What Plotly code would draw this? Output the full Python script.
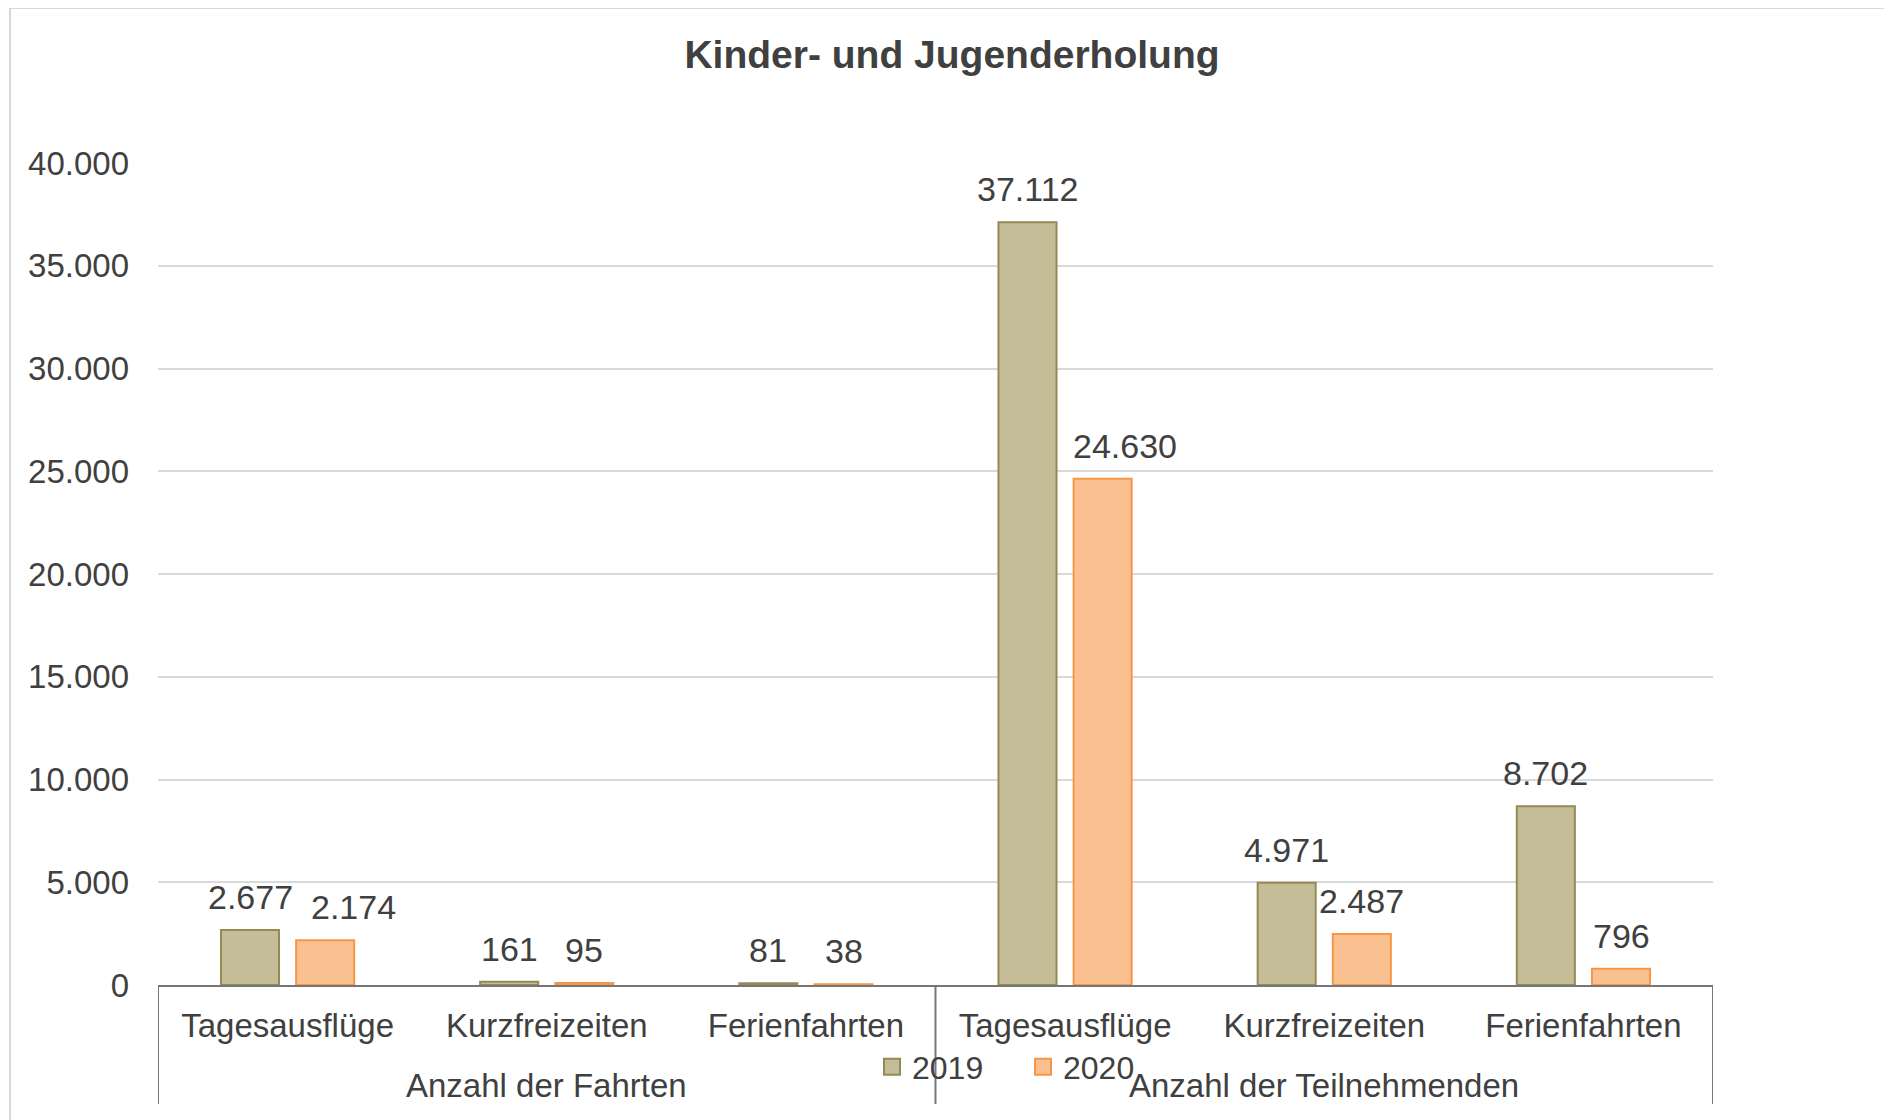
import plotly.graph_objects as go

# ---- data ----
group_labels = ["Anzahl der Fahrten", "Anzahl der Teilnehmenden"]
categories = ["Tagesausflüge", "Kurzfreizeiten", "Ferienfahrten"]
series_names = ["2019", "2020"]
values_2019 = [2677, 161, 81, 37112, 4971, 8702]
values_2020 = [2174, 95, 38, 24630, 2487, 796]
y_ticks = [0, 5000, 10000, 15000, 20000, 25000, 30000, 35000, 40000]

# ---- style ----
n_cat = len(categories)
x_pos = list(range(len(group_labels) * n_cat))
tick_text = [c for _ in group_labels for c in categories]

FONT = "Liberation Sans, Arial, sans-serif"
TXT = "#404040"
AXIS = "#767676"
FILLS = ["#C4BD97", "#FAC090"]
LINES = ["#948A54", "#F79646"]
BAR_W = 0.224
BAR_OFFSETS = [-0.145 - BAR_W / 2, 0.145 - BAR_W / 2]
# pixel nudges for labels that would collide (2020 series)
LABEL_NUDGE = [[0] * 6, [28, 0, 0, 22, 0, 0]]

# figure is placed with an 8px body margin in the page
W, H = 1884, 1112
ML, MT, PW, PH = 150, 155, 1555, 822

fig = go.Figure()
series_values = [values_2019, values_2020]
for s, (name, vals) in enumerate(zip(series_names, series_values)):
    fig.add_trace(go.Bar(
        name=name, x=x_pos, y=vals, width=BAR_W, offset=BAR_OFFSETS[s],
        marker=dict(color=FILLS[s], line=dict(color=LINES[s], width=2)),
        showlegend=False, hoverinfo="x+y",
    ))
    # legend entry with larger square swatch
    fig.add_trace(go.Scatter(
        name=name, x=[None], y=[None], mode="markers",
        marker=dict(symbol="square", size=16, color=FILLS[s], line=dict(color=LINES[s], width=2)),
        showlegend=True,
    ))
    for i, v in enumerate(vals):
        fig.add_annotation(
            x=x_pos[i] + BAR_OFFSETS[s] + BAR_W / 2, y=v, xref="x", yref="y",
            text=f"{v:,}".replace(",", "."), showarrow=False, yanchor="middle",
            yshift=33, xshift=LABEL_NUDGE[s][i],
            font=dict(size=34, color=TXT, family=FONT))

fig.update_layout(
    width=W, height=H,
    paper_bgcolor="white", plot_bgcolor="white",
    separators=",.",
    font=dict(family=FONT, color=TXT, size=32),
    margin=dict(l=ML, r=W - ML - PW, t=MT, b=H - MT - PH),
    title=dict(text="<b>Kinder- und Jugenderholung</b>", x=944 / W, xref="container",
               xanchor="center", y=1 - 46 / H, yanchor="middle",
               font=dict(size=39, color=TXT, family=FONT)),
    showlegend=True,
    legend=dict(orientation="h", x=(864 - ML) / PW, xanchor="left", y=-(1067 - 985) / PH,
                yanchor="middle", font=dict(size=32, color=TXT, family=FONT),
                bgcolor="rgba(0,0,0,0)", itemwidth=30, entrywidth=106,
                entrywidthmode="pixels", traceorder="normal"),
)
fig.update_yaxes(range=[0, 40000], tickvals=y_ticks, tickformat=",", showgrid=True,
                 gridcolor="#D9D9D9", gridwidth=1.5, zeroline=False, showline=False,
                 ticks="", ticklabelstandoff=28, tickfont=dict(size=33, color=TXT, family=FONT))
fig.update_xaxes(range=[-0.5, len(x_pos) - 0.5], tickvals=x_pos, ticktext=tick_text,
                 showline=True, linecolor=AXIS, linewidth=2, showgrid=False, zeroline=False,
                 ticks="", ticklabelstandoff=10,
                 tickfont=dict(size=33, color=TXT, family=FONT))

# group dividers of the two-level category axis
div_depth = -(1104 - 985) / PH
for k in range(len(group_labels) + 1):
    xd = k * n_cat - 0.5
    fig.add_shape(type="line", xref="x", yref="paper", x0=xd, x1=xd, y0=0, y1=div_depth,
                  line=dict(color=AXIS, width=2))
# group labels
for k, g in enumerate(group_labels):
    fig.add_annotation(x=k * n_cat + (n_cat - 1) / 2, xref="x", y=-(1085 - 985) / PH,
                       yref="paper", text=g, showarrow=False, yanchor="middle",
                       font=dict(size=33, color=TXT, family=FONT))

# outer chart border (decorative)
fig.add_shape(type="rect", xref="paper", yref="paper",
              x0=(2 - ML) / PW, x1=1.3, y0=-0.5, y1=(PH + MT - 0) / PH,
              line=dict(color="#D9D9D9", width=2), fillcolor="rgba(0,0,0,0)", layer="below")

fig.write_html("out.html")
